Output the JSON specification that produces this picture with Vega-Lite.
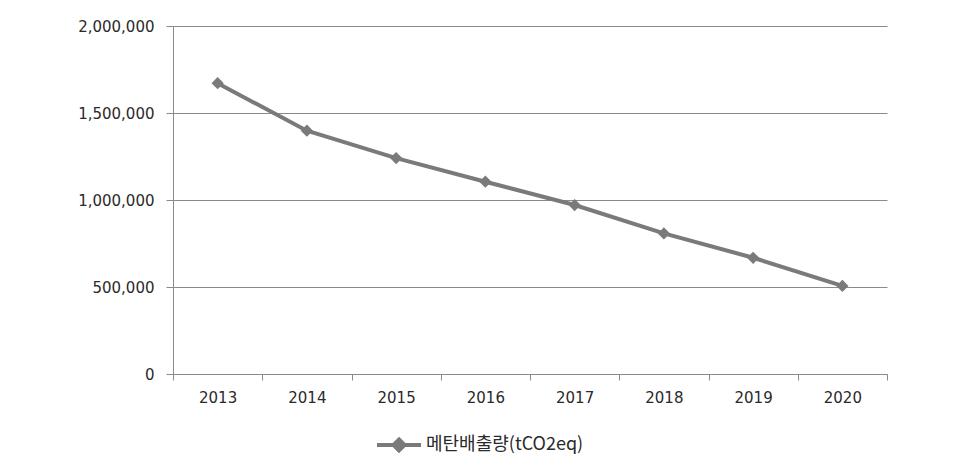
{
  "$schema": "https://vega.github.io/schema/vega-lite/v6.json",
  "autosize": {"type": "none"},
  "width": 714,
  "height": 348,
  "padding": {"left": 173, "top": 26, "right": 79, "bottom": 91},
  "background": "white",
  "config": {
    "view": {"stroke": null},
    "font": "DejaVu Sans",
    "axis": {"labelFont": "DejaVu Sans", "labelColor": "#2a2a2a", "labelFontSize": 15, "domainColor": "#8a8a8a", "tickColor": "#8a8a8a", "gridColor": "#8a8a8a", "gridOpacity": 1}
  },
  "data": {
    "values": [
      {"year": "2013", "value": 1671000, "series": "메탄배출량(tCO2eq)"},
      {"year": "2014", "value": 1398000, "series": "메탄배출량(tCO2eq)"},
      {"year": "2015", "value": 1241000, "series": "메탄배출량(tCO2eq)"},
      {"year": "2016", "value": 1105000, "series": "메탄배출량(tCO2eq)"},
      {"year": "2017", "value": 971000, "series": "메탄배출량(tCO2eq)"},
      {"year": "2018", "value": 808000, "series": "메탄배출량(tCO2eq)"},
      {"year": "2019", "value": 668000, "series": "메탄배출량(tCO2eq)"},
      {"year": "2020", "value": 506000, "series": "메탄배출량(tCO2eq)"}
    ]
  },
  "encoding": {
    "x": {
      "field": "year", "type": "ordinal",
      "scale": {"type": "band", "paddingInner": 0, "paddingOuter": 0},
      "axis": {"title": null, "labelAngle": 0, "tickBand": "extent", "tickSize": 6, "labelPadding": 10, "grid": false}
    },
    "y": {
      "field": "value", "type": "quantitative",
      "scale": {"domain": [0, 2000000], "nice": false},
      "axis": {"title": null, "values": [0, 500000, 1000000, 1500000, 2000000], "format": ",d", "tickSize": 7, "labelPadding": 12, "grid": true}
    },
    "color": {
      "field": "series", "type": "nominal",
      "scale": {"range": ["#7a7a7a"]},
      "legend": {
        "title": null, "orient": "none", "legendX": 202, "legendY": 395,
        "symbolType": "M-1,0L1,0M0,-0.25L0.25,0L0,0.25L-0.25,0Z",
        "symbolSize": 1936, "symbolStrokeWidth": 4,
        "labelFont": "Noto Sans CJK KR", "labelFontSize": 18, "labelColor": "#2a2a2a", "labelOffset": 3,
        "encode": {"symbols": {"update": {"fill": {"value": "#7a7a7a"}, "stroke": {"value": "#7a7a7a"}, "opacity": {"value": 1}}}}
      }
    }
  },
  "layer": [
    {"mark": {"type": "line", "strokeWidth": 4}},
    {"mark": {"type": "point", "shape": "diamond", "filled": true, "size": 150, "opacity": 1}}
  ]
}
